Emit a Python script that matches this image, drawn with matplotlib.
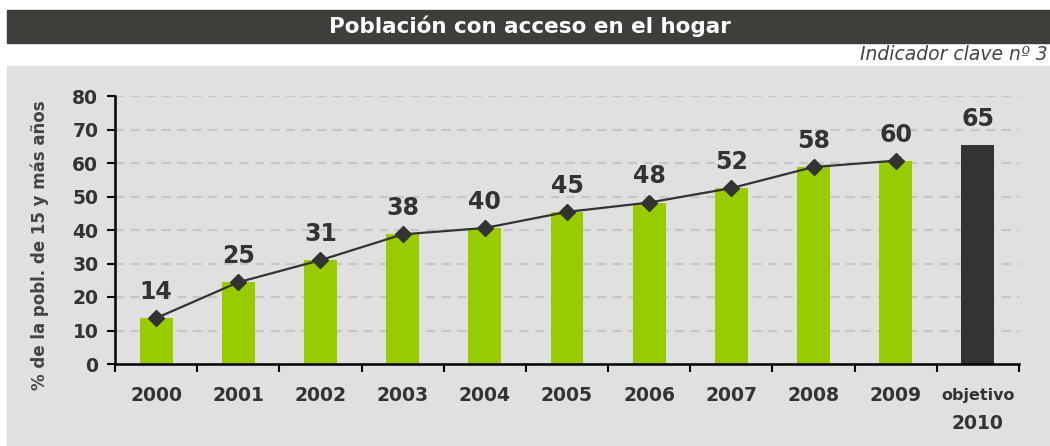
import matplotlib.pyplot as plt
import matplotlib.transforms as mtransforms
from matplotlib.patches import Rectangle
import numpy as np

# data
years = ["2000", "2001", "2002", "2003", "2004", "2005", "2006", "2007", "2008", "2009"]
values = [13.7, 24.4, 31.0, 38.7, 40.6, 45.4, 48.2, 52.5, 58.8, 60.7]
labels = ["14", "25", "31", "38", "40", "45", "48", "52", "58", "60"]
target_value = 65.5
target_label = "65"
yticks = [0, 10, 20, 30, 40, 50, 60, 70, 80]

GREEN = "#99cc00"
DARK = "#333333"
PANEL = "#e0e0e0"
BAR_HEAD = "#3e3f3a"

plt.rcParams['font.family'] = ['DejaVu Sans']

fig = plt.figure(figsize=(10.5, 4.46), dpi=100)
fig.patch.set_facecolor("white")

# header bar and grey panel (drawn behind the axes)
fig.add_artist(Rectangle((7 / 1050, 1 - 43 / 446), 1, 33 / 446,
                         transform=fig.transFigure, color=BAR_HEAD, zorder=-2))
fig.add_artist(Rectangle((7 / 1050, 0), 1, 380 / 446,
                         transform=fig.transFigure, color=PANEL, zorder=-2))
fig.text(0.505, 1 - 26.5 / 446, "Población con acceso en el hogar", color="white",
         fontsize=15.5, fontweight="bold", ha="center", va="center")
fig.text(1048 / 1050, 1 - 55 / 446, "Indicador clave nº 3", color="#444444",
         fontsize=13.5, style="italic", ha="right", va="center")

ax = fig.add_axes([115 / 1050, 1 - 364 / 446, 904 / 1050, 268 / 446])
ax.set_facecolor("none")
ax.set_zorder(2)

x = np.arange(len(years))
xt = len(years)
ax.bar(x, values, width=0.4, color=GREEN, zorder=2)
ax.bar([xt], [target_value], width=0.4, color=DARK, zorder=2)
ax.plot(x, values, color=DARK, lw=1.6, marker="D", markersize=8, zorder=3)

for xi, v, lab in zip(x, values, labels):
    ax.text(xi, v + 4.2, lab, ha="center", va="bottom", fontsize=17,
            fontweight="bold", color=DARK)
ax.text(xt, target_value + 4, target_label, ha="center", va="bottom", fontsize=17,
        fontweight="bold", color=DARK)

ax.set_xlim(-0.5, xt + 0.5)
ax.set_ylim(0, 80)
ax.set_yticks(yticks)
ax.set_yticklabels([str(t) for t in yticks], fontsize=13.5, fontweight="bold", color=DARK)
ax.yaxis.grid(True, color="#c6c6c6", ls=(0, (4, 3)), lw=1.6)
ax.set_axisbelow(True)

# ticks at category boundaries, labels centered
ax.set_xticks(np.arange(-0.5, xt + 1, 1.0))
ax.set_xticklabels([])
ax.set_xticks(np.arange(0, xt + 1), minor=True)
ax.set_xticklabels(years + [""], minor=True, fontsize=13.5, fontweight="bold", color=DARK)
ax.tick_params(axis="x", which="minor", length=0, pad=16)
ax.tick_params(axis="x", which="major", length=6, width=1.5, direction="out", color="black")
ax.tick_params(axis="y", length=6, width=1.5, direction="out", color="black", pad=6)

trans = mtransforms.blended_transform_factory(ax.transData, ax.transAxes)
ax.text(xt, -0.118, "objetivo", transform=trans, ha="center", va="center",
        fontsize=11.5, fontweight="bold", color=DARK)
ax.text(xt, -0.222, "2010", transform=trans, ha="center", va="center",
        fontsize=13.5, fontweight="bold", color=DARK)

for s in ["top", "right"]:
    ax.spines[s].set_visible(False)
for s in ["left", "bottom"]:
    ax.spines[s].set_linewidth(1.8)
    ax.spines[s].set_color("black")

fig.text(40 / 1050, 1 - 245 / 446, "% de la pobl. de 15 y más años", rotation=90,
         ha="center", va="center", fontsize=12, fontweight="bold", color="#444444")

fig.savefig("out.png", dpi=100, facecolor=fig.get_facecolor())
